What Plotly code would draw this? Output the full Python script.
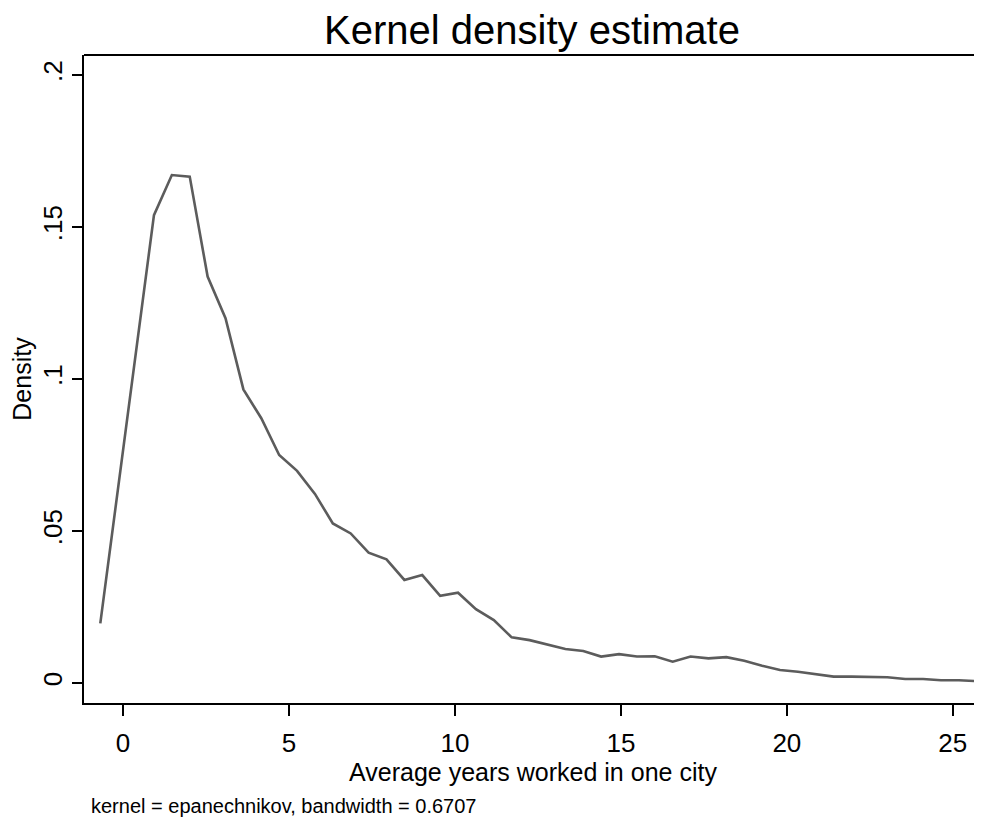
import plotly.graph_objects as go

# Evaluation grid (50 points, Stata kdensity default) and density estimates
x_start = -0.684
x_step = 0.5389
n_points = 50
x_grid = [x_start + i * x_step for i in range(n_points)]

density = [
    0.0196, 0.0644, 0.1092, 0.1539, 0.1671, 0.1666, 0.1337, 0.1200, 0.0966, 0.0871,
    0.0750, 0.0698, 0.0622, 0.0525, 0.0492, 0.0429, 0.0407, 0.0339, 0.0355, 0.0287,
    0.0297, 0.0243, 0.0207, 0.0150, 0.0141, 0.0127, 0.0112, 0.0105, 0.0087, 0.0095,
    0.0087, 0.0088, 0.0070, 0.0087, 0.0081, 0.0085, 0.0073, 0.0057, 0.0043, 0.0037,
    0.0030, 0.0021, 0.0021, 0.0021, 0.0019, 0.0013, 0.0013, 0.0009, 0.0009, 0.0006,
]

x_ticks = [0, 5, 10, 15, 20, 25]
x_tick_labels = ["0", "5", "10", "15", "20", "25"]
y_ticks = [0, 0.05, 0.1, 0.15, 0.2]
y_tick_labels = ["0", ".05", ".1", ".15", ".2"]

title_text = "Kernel density estimate"
x_title = "Average years worked in one city"
y_title = "Density"
caption = "kernel = epanechnikov, bandwidth = 0.6707"

FONT = "Liberation Sans, Arial, sans-serif"

fig = go.Figure()
fig.add_trace(go.Scatter(
    x=x_grid, y=density, mode="lines",
    line=dict(color="#5c5c5c", width=2.6),
    showlegend=False, hoverinfo="skip",
))

# The page body adds an 8px offset; the figure is sized so that it ends at the window edge.
OFF = 8
W, H = 982 - OFF, 821 - OFF
# target pixel positions in the window
plot_left, plot_right, plot_top, plot_bottom = 84, 982, 55, 703
ml = plot_left - OFF
mr = 982 - plot_right
mt = plot_top - OFF
mb = 821 - plot_bottom
plot_h = H - mt - mb
plot_w = W - ml - mr

fig.update_layout(
    width=W, height=H,
    margin=dict(l=ml, r=mr, t=mt, b=mb, autoexpand=False),
    paper_bgcolor="white", plot_bgcolor="white",
    font=dict(family=FONT, color="black"),
    title=dict(text=title_text, x=(532 - OFF) / W, xanchor="center",
               y=1 - (30 - OFF) / H, yanchor="middle",
               font=dict(size=40, family=FONT, color="black")),
    xaxis=dict(
        range=[-1.175, 25.88],
        tickvals=x_ticks, ticktext=x_tick_labels,
        ticks="outside", ticklen=11, tickwidth=1.5, tickcolor="black",
        showline=True, linecolor="black", linewidth=1.8,
        showgrid=False, zeroline=False, automargin=False,
        tickfont=dict(size=26, family=FONT, color="black"),
        ticklabelstandoff=5,
        title=dict(text=x_title, font=dict(size=25, family=FONT, color="black"), standoff=0),
    ),
    yaxis=dict(
        range=[-0.00658, 0.2066],
        tickvals=y_ticks, ticktext=y_tick_labels,
        ticks="outside", ticklen=10, tickwidth=1.5, tickcolor="black",
        tickangle=-90,
        showline=True, linecolor="black", linewidth=1.8,
        showgrid=False, zeroline=False, automargin=False,
        tickfont=dict(size=26, family=FONT, color="black"),
        ticklabelstandoff=0,
        title=dict(text=y_title, font=dict(size=25, family=FONT, color="black"), standoff=6),
    ),
    shapes=[dict(type="line", xref="paper", yref="paper", x0=0, x1=1.02, y0=1, y1=1,
                 line=dict(color="black", width=1.8))],
    annotations=[dict(
        text=caption, xref="paper", yref="paper",
        x=(89 - plot_left) / plot_w, xanchor="left",
        y=-(806 - plot_bottom) / plot_h, yanchor="middle",
        showarrow=False, font=dict(size=20, family=FONT, color="black"),
    )],
)

fig.write_html("out.html")
